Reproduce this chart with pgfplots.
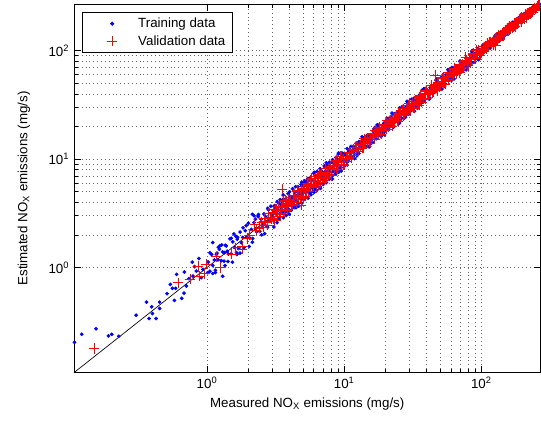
\documentclass[border=0pt]{standalone}
\usepackage{pgfplots}
\pgfplotsset{compat=1.18}
\usepackage{fontspec}
\setmainfont{Liberation Sans}
\pgfplotsset{
  legblue/.style={legend image code/.code={\path[draw=none] (0pt,0pt) -- (37pt,0pt); \path[draw=none] plot[mark=*, mark size=1.2pt, mark options={blue}] coordinates {(19.5pt,0pt)};}},
  legred/.style={legend image code/.code={\path[draw=none] (0pt,0pt) -- (37pt,0pt); \path[draw=none] plot[mark=+, mark size=3.8pt, mark options={red, line width=0.5pt}] coordinates {(19.5pt,0pt)};}},
}
\begin{document}
\begin{tikzpicture}
\useasboundingbox (-55.5pt,-36pt) rectangle (350.6pt,279.75pt);
\begin{axis}[
  scale only axis, width=350.25pt, height=276.75pt,
  xmode=log, ymode=log,
  xmin=0.107, xmax=270, ymin=0.107, ymax=270,
  xtick={1,10,100}, ytick={1,10,100},
  xticklabels={10\textsuperscript{0},10\textsuperscript{1},10\textsuperscript{2}},
  yticklabels={10\textsuperscript{0},10\textsuperscript{1},10\textsuperscript{2}},
  tick align=inside, tick pos=both,
  major tick length=5pt, minor tick length=3pt,
  grid=both,
  major grid style={dash pattern=on 0.5pt off 2.4pt, black!60, line width=0.45pt},
  minor grid style={dash pattern=on 0.5pt off 2.4pt, black!60, line width=0.45pt},
  axis line style={line width=0.6pt},
  every tick/.style={black, line width=0.5pt},
  xlabel={Measured NO\textsubscript{X} emissions (mg/s)},
  ylabel={Estimated NO\textsubscript{X} emissions (mg/s)},
  ylabel shift=7pt,
  legend style={at={(0.017,0.978)}, anchor=north west, draw=black, line width=0.6pt, fill=white, font=\normalsize, inner xsep=3pt, inner ysep=2pt, row sep=0.5pt},
  legend cell align=left,
]
\addplot[only marks, mark=*, mark size=1.2pt, color=blue, mark options={blue}, legblue] coordinates {
(0.108,0.204) (0.122,0.242) (0.155,0.272) (0.191,0.234) (0.202,0.242) (0.227,0.232) (0.304,0.363) (0.362,0.479) (0.378,0.338) (0.395,0.434) (0.40,0.376) (0.425,0.338) (0.451,0.479) (0.451,0.419) (0.511,0.573) (0.540,0.698) (0.559,0.642) (0.578,0.497) (0.59,0.642) (0.60,0.864) (0.653,0.519) (0.679,0.58) (0.683,0.908) (0.707,0.674)
(0.738,0.789) (0.78,1.12) (0.79,0.834) (0.81,1.02) (0.835,0.927) (0.872,1.21) (0.908,0.806) (0.933,0.962) (1.01,0.896) (1.10,1.70) (1.17,1.32) (1.23,1.47) (1.34,1.37) (1.38,1.58) (1.64,1.37) (1.67,1.9) (1.30,0.83) (1.53,1.12) (2.14,3.1) (2.2,3.0) (2.76,2.35)
(1.02,1.12) (1.05,0.924) (1.08,1.32) (1.1,1.045) (1.13,1.175) (1.15,0.943) (1.18,1.357) (1.2,1.176) (1.24,1.587) (1.27,1.156) (1.3,1.391) (1.33,1.144) (1.36,1.605) (1.4,1.414) (1.43,1.33) (1.47,1.838) (1.5,1.335) (1.54,1.725) (1.58,1.533) (1.62,1.944) (1.66,1.826) (1.7,1.496) (1.74,2.123) (1.78,1.691) (1.82,1.893) (1.86,1.525) (1.9,2.185) (1.95,1.911) (2.0,2.56) (2.05,1.866) (2.1,2.247) (2.15,1.849) (2.2,2.596) (2.25,2.273) (2.3,2.139) (2.36,2.95) (2.42,2.154) (2.48,2.778) (2.54,2.464) (2.6,3.12) (2.67,2.937) (2.74,2.411) (2.8,3.416) (2.87,2.727) (2.94,3.058)
(3.0,3.18) (3.08,2.772) (3.15,3.623) (3.22,3.123) (3.3,3.366) (3.37,2.898) (3.45,3.795) (3.52,3.309) (3.6,4.284) (3.68,3.68) (3.76,3.459) (3.85,4.158) (3.93,3.458) (4.02,4.543) (4.1,3.936) (4.2,4.368) (4.3,3.569) (4.4,4.928) (4.5,4.455) (4.6,5.566) (4.7,4.982) (4.8,4.32) (4.9,5.635) (5.0,4.85) (5.12,5.222) (5.24,4.506) (5.36,5.896) (5.48,5.151) (5.6,6.664) (5.72,5.72) (5.85,5.382) (5.98,6.458) (6.1,5.368) (6.25,7.063) (6.4,6.144) (6.55,6.812) (6.7,5.561) (6.85,7.672) (7.0,6.93) (7.15,8.652) (7.3,7.738) (7.46,6.714) (7.62,8.763) (7.8,7.566) (7.97,8.129) (8.15,7.009) (8.33,9.163) (8.5,7.99) (8.7,10.35) (8.9,8.9) (9.1,8.372) (9.3,10.04) (9.5,8.36) (9.75,11.02) (9.95,9.552)
(3.04,2.888) (3.11,3.39) (3.18,2.767) (3.26,3.358) (3.33,3.896) (3.41,3.171) (3.48,3.515) (3.56,3.168) (3.64,4.15) (3.72,3.646) (3.8,4.066) (3.89,3.307) (3.97,4.407) (4.06,3.898) (4.15,4.358) (4.25,3.868) (4.35,5.046) (4.45,4.183) (4.55,4.641) (4.65,3.906) (4.75,4.513) (4.85,5.287) (4.95,4.307) (5.06,5.212) (5.18,6.061) (5.3,4.929) (5.42,5.474) (5.54,4.931) (5.66,6.452) (5.78,5.664) (5.92,6.334) (6.04,5.134) (6.18,6.86) (6.32,6.067) (6.48,6.804) (6.62,6.024) (6.78,7.865) (6.92,6.505) (7.08,7.222) (7.22,6.065) (7.38,7.011) (7.54,8.219) (7.7,6.699) (7.88,8.116) (8.06,9.43) (8.24,7.663) (8.42,8.504) (8.6,7.654) (8.8,10.03) (9.0,8.82) (9.2,9.844) (9.4,7.99) (9.62,10.68) (9.85,9.456)
(10.2,10.71) (10.5,9.765) (10.8,11.88) (11.1,10.88) (11.4,11.63) (11.7,10.41) (12.0,12.84) (12.4,11.9) (12.8,14.46) (13.2,13.2) (13.6,12.78) (14.0,14.84) (14.4,13.1) (14.8,16.13) (15.2,14.74) (15.7,16.17) (16.2,14.26) (16.7,18.04) (17.2,17.03) (17.7,20.18) (18.2,19.11) (18.8,17.48) (19.4,21.34) (20.0,19.6) (20.6,21.01) (21.2,18.87) (21.8,23.33) (22.5,21.6) (23.2,26.22) (23.9,23.9) (24.6,23.12) (25.4,26.92) (26.2,23.84) (27.0,29.43) (27.8,26.97) (28.7,29.56) (29.6,26.05)
(10.35,10.04) (10.65,11.5) (10.95,10.07) (11.25,11.7) (11.55,12.94) (11.85,11.26) (12.2,12.32) (12.6,11.34) (13.0,13.78) (13.4,13.27) (13.8,15.32) (14.2,13.21) (14.6,15.04) (15.0,13.05) (15.45,16.53) (15.95,15.31) (16.45,18.59) (16.95,15.93) (17.45,17.8) (17.95,19.57) (18.5,17.95) (19.1,20.63) (19.7,18.12) (20.3,21.11) (20.9,23.41) (21.5,20.43) (22.15,22.37) (22.85,20.57) (23.55,24.96) (24.25,24.01) (25.0,27.75) (25.8,23.99) (26.6,27.4) (27.4,23.84) (28.25,30.23) (29.15,27.98)
(30.5,31.72) (31.5,29.93) (32.5,35.1) (33.5,32.83) (34.6,34.95) (35.7,32.84) (36.8,39.01) (38.0,36.86) (39.2,43.12) (40.4,40.4) (41.7,39.2) (43.0,45.15) (44.4,41.29) (45.8,49.01) (47.2,46.73) (48.7,50.16) (50.2,45.68) (51.8,54.91) (53.4,51.26) (55.1,60.06) (56.8,59.07) (58.6,55.67) (60.4,65.23) (62.3,61.05) (64.3,64.94) (66.3,61.0) (68.4,72.5) (70.5,68.39) (72.7,79.97) (75.0,75.0) (77.4,72.76) (79.8,83.79) (82.3,76.54) (84.9,90.84) (87.6,86.72) (90.3,93.01) (93.1,84.72) (96.0,101.8) (99.0,95.04)
(31.0,30.07) (32.0,34.24) (33.0,30.69) (34.0,34.68) (35.1,38.26) (36.2,34.75) (37.4,37.4) (38.6,35.13) (39.8,41.79) (41.0,40.18) (42.3,45.68) (43.7,41.08) (45.1,46.45) (46.5,41.85) (47.9,50.77) (49.4,48.91) (51.0,56.61) (52.6,49.97) (54.2,54.74) (55.9,58.14) (57.7,55.97) (59.5,63.67) (61.3,57.01) (63.3,64.57) (65.3,71.18) (67.3,64.61) (69.4,69.4) (71.6,65.16) (73.8,77.49) (76.2,74.68) (78.6,84.89) (81.0,76.14) (83.6,86.11) (86.2,77.58) (88.9,94.23) (91.7,90.78) (94.5,104.9) (97.5,92.63)
(101,104) (104,99.8) (107,113.4) (110,108.9) (113,114.1) (116,109) (120,124.8) (124,120.3) (128,137) (132,132) (136,129.2) (140,147) (145,142.1) (150,153) (155,144.2) (160,166.4) (166,161) (172,182.3) (178,176.2) (185,188.7) (192,197.8) (199,191) (207,219.4) (215,212.9) (224,226.2) (233,219) (242,251.7) (252,244.4) (262,267.2)
(102.5,100.5) (105.5,110.8) (108.5,103.1) (111.5,113.7) (114.5,121.4) (118,114.5) (122,122) (126,118.4) (130,135.2) (134,132.7) (138,144.9) (142.5,136.8) (147.5,149) (152.5,144.9) (157.5,162.2) (163,159.7) (169,177.5) (175,169.8) (181.5,185.1) (188.5,186.6) (195.5,191.6) (203,213.2) (211,200.5) (219.5,223.9) (228.5,235.4) (237.5,230.4) (247,247) (257,251.9) (266,268.7)
(3.1,3.72) (3.3,2.772) (3.5,4.06) (3.7,3.219) (3.9,4.797) (4.1,3.362) (4.35,4.959) (4.6,3.956) (4.85,5.82) (5.1,4.284) (5.4,6.264) (5.7,4.959) (6.0,7.38) (6.3,5.166) (6.65,7.581) (7.0,6.02) (7.4,8.88) (7.8,6.552) (8.2,9.512) (8.6,7.482) (9.05,11.13) (9.5,7.79)
(10.0,11.3) (10.5,9.345) (11.0,12.21) (11.6,10.44) (12.2,14.03) (12.8,11.26) (13.4,14.74) (14.1,12.83) (14.8,16.72) (15.5,13.8) (16.3,18.09) (17.1,15.39) (18.0,20.7) (18.9,16.63) (19.8,21.78) (20.8,18.93) (21.8,24.63) (22.9,20.38) (24.0,26.64) (25.2,22.68) (26.5,30.48) (27.8,24.46) (29.2,32.12) (30.6,27.85) (32.1,36.27) (33.7,29.99) (35.4,39.29) (37.2,33.48) (39.0,44.85) (41.0,36.08) (43.0,47.3) (45.2,41.13) (47.4,53.56) (49.8,44.32) (52.3,58.05) (54.9,49.41) (57.6,66.24) (60.5,53.24) (63.5,69.85) (66.7,60.7) (70.0,79.1) (73.5,65.42) (77.2,85.69) (81.0,72.9) (85.1,97.87) (89.3,78.58) (93.8,103.2) (98.5,89.64)
(103,111.2) (108,100.4) (114,122) (120,112.8) (126,137.3) (132,121.4) (139,150.1) (146,135.8) (153,163.7) (160,150.4) (168,183.1) (177,162.8) (186,200.9) (195,181.4) (205,219.4) (215,202.1) (226,239.6) (237,225.2) (249,259)
(3.25,4.063) (3.6,2.88) (4.0,5.0) (4.45,3.56) (4.9,6.125) (5.45,4.36) (6.05,7.563) (6.7,5.36) (7.4,9.25) (8.2,6.56) (9.1,11.38) (10.1,8.686) (11.2,13.1) (12.4,10.79) (13.7,15.76) (15.2,13.07) (16.8,19.66) (18.6,16.18) (20.6,23.69) (22.8,19.61) (25.3,29.6) (28.0,24.36) (31.0,35.65) (34.3,29.5) (38.0,44.46) (42.1,36.63) (46.6,53.59) (51.6,44.38) (57.1,66.81) (63.2,54.98) (70.0,80.5) (77.5,66.65) (85.8,100.4) (95.0,82.65) (105,115.5) (116,105.6) (129,141.9) (143,130.1) (158,173.8) (175,159.3) (194,209.5) (215,200) (238,249.9)
(1.05,1.365) (1.15,0.897) (1.28,1.613) (1.42,1.136) (1.57,2.041) (1.74,1.357) (1.93,2.432) (2.14,1.712) (2.37,3.081) (2.63,2.051) (2.92,3.679) (3.24,2.592) (3.59,4.667) (3.98,3.104) (4.42,5.569) (4.9,3.92) (5.43,6.625) (6.02,4.936) (6.68,8.15) (7.41,6.076) (8.22,9.864) (9.12,7.57)
(10.5,12.5) (11.9,10.12) (13.5,16.07) (15.3,13.01) (17.4,20.71) (19.7,16.75) (22.3,26.54) (25.3,21.51) (28.7,34.15) (32.5,27.63) (36.9,43.17) (41.8,35.95) (47.4,54.98) (53.8,46.81) (61,70.15)
(1.1,0.88) (1.21,1.537) (1.35,1.04) (1.5,1.86) (1.65,1.32) (1.83,2.324) (2.03,1.563) (2.25,2.79) (2.5,2.0) (2.77,3.518) (3.07,2.364) (3.41,4.228) (3.78,3.024) (4.2,5.334) (4.66,3.681) (5.16,6.295) (5.72,4.69) (6.35,7.684) (7.04,5.843) (7.8,9.36) (8.65,7.266) (9.6,11.42)
};
\addlegendentry{Training data}
\addplot[only marks, mark=+, mark size=3.8pt, color=red, mark options={red, line width=0.5pt}, legred] coordinates {
(0.150,0.179) (0.614,0.724) (0.756,0.777) (0.858,1.02) (0.88,0.83) (0.96,0.88) (0.987,1.07) (1.17,1.26) (1.25,1.0) (1.51,1.33) (1.62,1.52) (1.81,1.57) (1.81,1.48) (1.95,1.85) (2.05,2.0) (2.22,2.51) (2.27,2.2) (2.4,2.3) (2.62,2.68)
(3.54,5.3) (4.84,3.77) (45.9,59.3) (49,46.6) (76.7,87.7) (127,112) (35.1,31.3)
(2.50,2.6) (2.56,2.355) (2.62,2.856) (2.68,2.626) (2.75,2.448) (2.82,3.187) (2.89,2.89) (2.96,2.812) (3.03,3.242) (3.10,2.697) (3.18,3.339) (3.25,3.153) (3.33,3.696) (3.41,3.103) (3.50,3.57) (3.58,4.117) (3.67,3.45) (3.76,3.873) (3.85,3.388) (3.94,4.255) (4.04,4.202) (4.14,3.809) (4.24,4.622) (4.34,4.253) (4.45,3.961) (4.55,5.142) (4.66,4.66) (4.78,4.541) (4.89,5.232) (5.01,4.359) (5.13,5.387) (5.26,5.102) (5.38,5.972) (5.51,5.014) (5.65,5.763) (5.78,6.647) (5.92,5.565) (6.07,6.252) (6.21,5.465) (6.36,6.869) (6.52,6.781) (6.67,6.136) (6.84,7.456) (7.00,6.86) (7.17,6.381) (7.34,8.294) (7.52,7.52) (7.70,7.315) (7.89,8.442) (8.08,7.03) (8.27,8.684) (8.47,8.216) (8.68,9.635) (8.89,8.09) (9.10,9.282) (9.32,10.72) (9.55,8.977) (9.78,10.07) (10.0,8.8)
(10.3,10.51) (10.6,10.18) (10.9,11.45) (11.3,11.19) (11.6,10.9) (12.0,12.84) (12.3,12.3) (12.7,12.32) (13.1,13.62) (13.5,12.56) (13.9,14.32) (14.3,14.01) (14.7,15.58) (15.2,14.44) (15.6,15.76) (16.1,17.39) (16.6,16.1) (17.1,17.44) (17.6,16.54) (18.1,19.01) (18.7,19.07) (19.2,18.43) (19.8,20.79) (20.4,20.2) (21.0,19.74) (21.6,23.11) (22.3,22.3) (23.0,22.31) (23.6,24.54) (24.3,22.6) (25.1,25.85) (25.8,25.28) (26.6,28.2) (27.4,26.03) (28.2,28.48) (29.1,31.43) (29.9,29.0) (30.8,31.42) (31.8,29.89) (32.7,34.34) (33.7,34.37) (34.7,33.31) (35.8,37.59) (36.8,36.43) (37.9,35.63) (39.1,41.84) (40.3,40.3) (41.5,40.26) (42.7,44.41) (44.0,40.92) (45.3,46.66) (46.7,45.77) (48.1,50.99) (49.5,47.03) (51.0,51.51) (52.5,56.7) (54.1,52.48) (55.7,56.81) (57.4,53.96) (59.1,62.06) (60.9,62.12) (62.7,60.19) (64.6,67.83) (66.5,65.84) (68.5,64.39) (70.6,75.54) (72.7,72.7) (74.9,72.65) (77.1,80.18) (79.4,73.84) (81.8,84.25) (84.3,82.61) (86.8,92.01) (89.4,84.93) (92.1,93.02) (94.8,102.4) (97.7,94.77)
(100.6,101.6) (103.6,100.5) (106.7,109.9) (109.9,108.8) (113.2,108.7) (116.6,121.3) (120.1,120.1) (123.7,121.2) (127.4,130) (131.3,126) (135.2,137.9) (139.2,137.8) (143.4,147.7) (147.7,143.3) (152.2,152.2) (156.7,163) (161.4,158.2) (166.3,168) (171.3,166.2) (176.4,181.7) (181.7,183.5) (187.1,181.5) (192.7,198.5) (198.5,196.5) (204.5,196.3) (210.6,219) (216.9,216.9) (223.4,218.9) (230.1,234.7) (237.0,227.5) (244.1,249) (251.5,249) (259.0,261.6) (266.8,264.1)
(3.05,2.806) (3.2,3.456) (3.4,2.992) (3.55,3.692) (3.7,4.181) (3.85,3.696) (4.0,4.04) (4.2,3.78) (4.4,4.664) (4.6,4.462) (4.8,4.416) (5.0,5.4) (5.2,4.576) (5.45,5.668) (5.7,6.441) (5.95,5.712) (6.2,6.262) (6.45,5.805) (6.75,7.155) (7.05,6.839) (7.35,6.762) (7.65,8.262) (8.0,7.04) (8.35,8.684) (8.7,9.831) (9.05,8.688) (9.45,9.545) (9.85,8.865)
(10.45,9.928) (10.85,11.5) (11.3,10.28) (11.75,12.1) (12.2,13.3) (12.7,12.32) (13.2,13.33) (13.75,12.79) (14.3,15.02) (14.85,14.55) (15.45,14.68) (16.1,17.07) (16.7,15.2) (17.4,17.92) (18.1,19.73) (18.8,18.24) (19.55,19.75) (20.35,18.93) (21.15,22.21) (22.0,21.56) (22.9,21.76) (23.8,25.23) (24.75,22.52) (25.75,26.52) (26.8,29.21) (27.85,27.01) (28.95,29.24) (30.1,27.99) (31.3,32.87) (32.6,31.95) (33.9,32.21) (35.25,37.37) (36.65,33.35) (38.1,39.24) (39.6,43.16) (41.2,39.96) (42.85,43.28) (44.55,41.43) (46.35,48.67) (48.2,47.24) (50.1,47.6) (52.1,55.23) (54.2,49.32) (56.35,58.04) (58.6,63.87) (60.95,59.12) (63.4,64.03) (65.9,61.29) (68.55,71.98) (71.3,69.87) (74.15,70.44) (77.1,81.73) (80.2,72.98) (83.4,85.9) (86.7,94.5) (90.2,87.49) (93.8,94.74) (97.5,90.68)
(102,98.94) (105,109.2) (108.3,102.9) (111.5,113.7) (115,120.8) (118.4,116) (122,122) (125.6,120.6) (129.4,133.3) (133.3,132) (137.3,133.2) (141.4,147.1) (145.6,138.3) (150,153) (154.5,162.2) (159,155.8) (163.8,163.8) (168.7,162) (173.8,179) (179,177.2) (184.4,178.9) (190,197.6) (195.6,185.8) (201.5,205.5) (207.5,217.9) (213.7,209.4) (220,220) (226.7,217.6) (233.5,240.5) (240.5,238.1) (247.7,242.7) (255,260.1) (262.5,259.9)
(3.15,3.465) (3.45,3.14) (3.8,4.104) (4.15,3.818) (4.55,5.051) (5.0,4.5) (5.5,5.885) (6.0,5.58) (6.6,7.26) (7.25,6.598) (7.95,8.586) (8.75,8.05) (9.6,10.66) (10.55,9.495) (11.6,12.41) (12.75,11.86) (14.0,15.4) (15.4,14.01) (16.9,18.25) (18.6,17.11) (20.4,22.64) (22.4,20.16) (24.6,26.32) (27.0,25.11) (29.7,32.67) (32.6,29.67) (35.8,38.66) (39.3,36.16) (43.2,47.95) (47.5,42.75) (52.2,55.85) (57.3,53.29) (63.0,69.3) (69.2,62.97) (76.0,82.08) (83.5,76.82) (91.7,101.8) (100.7,95.67) (110.6,117.2) (121.5,114.2) (133.5,140.2) (146.6,139.3) (161,170.7) (177,166.4) (194.4,204.1) (213.5,202.8) (234.5,243.9)
};
\addlegendentry{Validation data}
\addplot[black, line width=0.5pt, forget plot] coordinates {(0.107,0.107) (270,270)};
\end{axis}
\end{tikzpicture}
\end{document}
